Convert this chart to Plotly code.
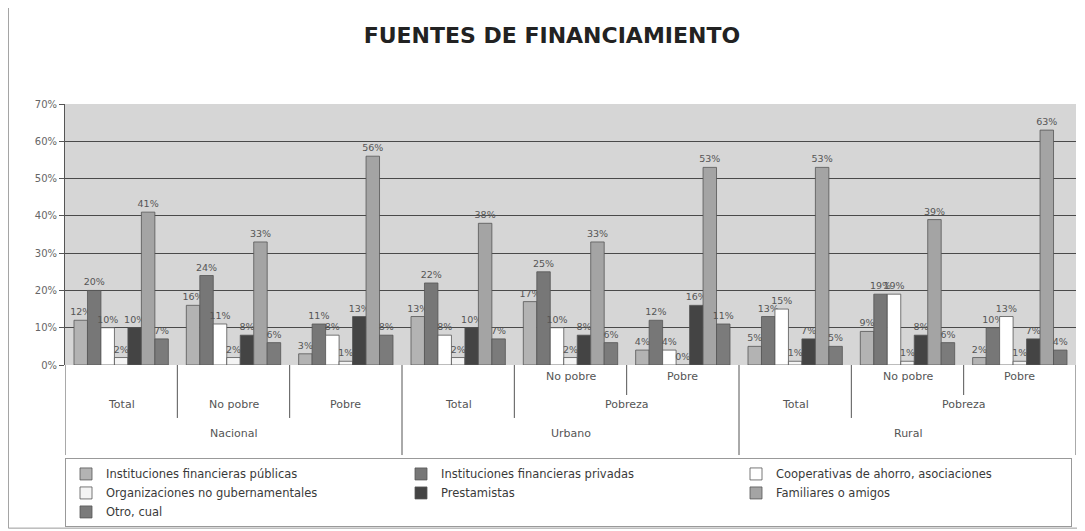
import plotly.graph_objects as go

# DATA
groups = ["Total", "No pobre", "Pobre", "Total", "No pobre", "Pobre", "Total", "No pobre", "Pobre"]
series_names = [
    "Instituciones financieras públicas",
    "Instituciones financieras privadas",
    "Cooperativas de ahorro, asociaciones",
    "Organizaciones no gubernamentales",
    "Prestamistas",
    "Familiares o amigos",
    "Otro, cual",
]
publicas = [12, 16, 3, 13, 17, 4, 5, 9, 2]
privadas = [20, 24, 11, 22, 25, 12, 13, 19, 10]
cooperativas = [10, 11, 8, 8, 10, 4, 15, 19, 13]
ong = [2, 2, 1, 2, 2, 0, 1, 1, 1]
prestamistas = [10, 8, 13, 10, 8, 16, 7, 8, 7]
familiares = [41, 33, 56, 38, 33, 53, 53, 39, 63]
otro = [7, 6, 8, 7, 6, 11, 5, 6, 4]

level2 = [("Total", 0, 0), ("No pobre", 1, 1), ("Pobre", 2, 2), ("Total", 3, 3),
          ("Pobreza", 4, 5), ("Total", 6, 6), ("Pobreza", 7, 8)]
level3 = [("Nacional", 0, 2), ("Urbano", 3, 5), ("Rural", 6, 8)]
yticks = [0, 10, 20, 30, 40, 50, 60, 70]

colors = ["#b3b3b3", "#777777", "#ffffff", "#f4f4f4", "#444444", "#a4a4a4", "#7b7b7b"]
values = [publicas, privadas, cooperativas, ong, prestamistas, familiares, otro]

FONT = "DejaVu Sans, Verdana, sans-serif"

x = list(range(len(groups)))
fig = go.Figure()
for name, vals, col in zip(series_names, values, colors):
    fig.add_trace(go.Bar(
        x=x, y=vals, name=name,
        marker=dict(color=col, line=dict(color="#555555", width=0.8)),
        text=[f"{v}%" for v in vals], textposition="outside",
        textfont=dict(size=9.5, color="#555555", family=FONT),
        cliponaxis=False,
    ))

LINE = "#555555"
# category table lines (x in data units, y in paper units)
line_ends = {0: -0.345, 1: -0.203, 2: -0.203, 3: -0.345, 4: -0.203, 5: -0.115,
             6: -0.345, 7: -0.203, 8: -0.115, 9: -0.345}
for k, yend in line_ends.items():
    fig.add_shape(type="line", xref="x", yref="paper", x0=k - 0.5, x1=k - 0.5,
                  y0=0, y1=yend, line=dict(color=LINE, width=1))

lab_font = dict(size=11, color="#555555", family=FONT)
# first row: sub-labels inside Pobreza
for i in [4, 5, 7, 8]:
    fig.add_annotation(x=i, y=-0.077, xref="x", yref="paper", text=groups[i],
                       showarrow=False, font=lab_font)
for txt, a, b in level2:
    fig.add_annotation(x=(a + b) / 2, y=-0.184, xref="x", yref="paper", text=txt,
                       showarrow=False, font=lab_font)
for txt, a, b in level3:
    fig.add_annotation(x=(a + b) / 2, y=-0.295, xref="x", yref="paper", text=txt,
                       showarrow=False, font=lab_font)

# outer chart border
fig.add_shape(type="rect", xref="paper", yref="paper", x0=-0.056, x1=1.002,
              y0=-0.625, y1=1.375, line=dict(color="#999999", width=1))

# page body has an 8px margin, so the figure is a bit smaller than the window
fig.update_layout(
    width=1077, height=523,
    margin=dict(l=57, r=9, t=96, b=166, autoexpand=False),
    paper_bgcolor="white", plot_bgcolor="#d6d6d6",
    barmode="group", bargap=0.16, bargroupgap=0,
    uniformtext=dict(minsize=9.5, mode="show"),
    font=dict(family=FONT, color="#333333"),
    title=dict(text="<b>FUENTES DE FINANCIAMIENTO</b>", x=0.505, xanchor="center",
               y=0.948, yanchor="middle",
               font=dict(size=22, color="#222222", family=FONT)),
    xaxis=dict(range=[-0.5, 8.5], showticklabels=False, ticks="", showgrid=False,
               zeroline=False, showline=False),
    yaxis=dict(range=[0, 70], tickvals=yticks, ticktext=[f"{v}%" for v in yticks],
               showgrid=True, gridcolor="#4a4a4a", gridwidth=1.3, zeroline=False,
               showline=True, linecolor=LINE, ticks="outside", ticklen=5, tickcolor=LINE,
               tickfont=dict(size=10, color="#666666")),
    legend=dict(orientation="h", x=0, xanchor="left", y=-0.358, yanchor="top",
                entrywidth=290, entrywidthmode="pixels", itemwidth=30,
                bordercolor="#999999", borderwidth=1, bgcolor="white",
                font=dict(size=11.5, color="#3a3a3a"), tracegroupgap=0),
    showlegend=True,
)

fig.write_html("out.html")
